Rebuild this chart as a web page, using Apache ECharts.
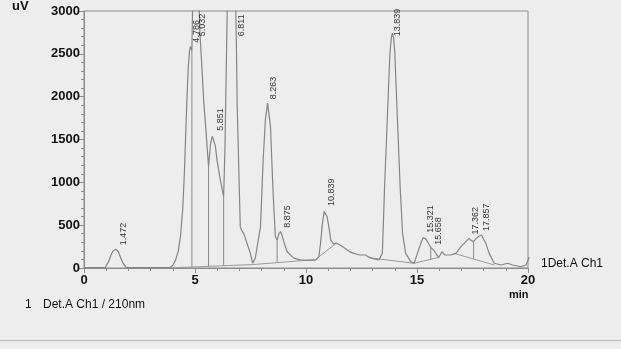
<!DOCTYPE html>
<html>
<head>
<meta charset="utf-8">
<script src="https://cdn.jsdelivr.net/npm/echarts@6/dist/echarts.min.js"></script>
<style>
  html, body { margin: 0; padding: 0; background: #ededed; }
  #chart { width: 621px; height: 349px; }
</style>
</head>
<body>
<div id="chart"></div>
<script>
// trace: retention time (min) / signal (uV)
var times = [0.0, 0.5, 0.95, 1.1, 1.2, 1.3, 1.43, 1.55, 1.65, 1.75, 1.9, 2.5, 3.0, 3.5, 3.88,
  4.0, 4.12, 4.25, 4.35, 4.45, 4.52, 4.58, 4.64, 4.7, 4.75, 4.79, 4.83, 4.86, 4.9, 4.97, 5.03,
  5.1, 5.17, 5.22, 5.31, 5.39, 5.5, 5.61, 5.7, 5.78, 5.84, 5.92, 5.99, 6.14, 6.29, 6.35, 6.42,
  6.48, 6.6, 6.7, 6.78, 6.84, 6.87, 6.9, 6.97, 7.04, 7.1, 7.19, 7.34, 7.49, 7.6, 7.72, 7.8,
  7.95, 8.07, 8.17, 8.27, 8.4, 8.52, 8.62, 8.7, 8.78, 8.85, 8.92, 9.0, 9.15, 9.45, 9.75, 10.05,
  10.43, 10.58, 10.66, 10.73, 10.82, 10.88, 10.95, 11.03, 11.12, 11.25, 11.35, 11.41, 11.5,
  11.56, 11.7, 11.86, 12.0, 12.16, 12.3, 12.46, 12.69, 12.8, 12.99, 13.29, 13.44, 13.54, 13.66,
  13.78, 13.85, 13.89, 13.95, 14.0, 14.12, 14.24, 14.35, 14.49, 14.72, 14.87, 15.02, 15.17,
  15.28, 15.32, 15.4, 15.5, 15.62, 15.7, 15.78, 15.89, 15.99, 16.12, 16.25, 16.52, 16.75,
  16.98, 17.2, 17.35, 17.45, 17.55, 17.65, 17.8, 17.9, 17.95, 18.1, 18.25, 18.48, 18.78,
  19.08, 19.31, 19.68, 19.91, 20.06];
var signal = [5, 6, 5, 70, 140, 195, 220, 190, 120, 60, 8, 5, 5, 5, 8,
  30, 90, 200, 380, 700, 1100, 1550, 2000, 2350, 2520, 2585, 2570, 2540, 3200, 4200, 4600,
  4000, 3200, 2750, 2350, 1960, 1580, 1183, 1450, 1540, 1555, 1420, 1260, 1030, 832, 1400, 2500,
  3500, 5500, 6000, 4500, 3000, 2500, 1900, 1180, 480, 440, 405, 290, 175, 55, 120, 250,
  480, 1260, 1730, 1925, 1650, 870, 365, 327, 400, 425, 380, 307, 190, 115, 95, 88,
  93, 132, 300, 500, 660, 677, 600, 480, 320, 280, 290, 295, 275,
  268, 240, 210, 185, 171, 160, 152, 152, 130, 113, 93, 171, 949, 1727,
  2506, 2700, 2740, 2680, 2506, 1727, 949, 405, 171, 74, 55, 171, 288,
  355, 365, 340, 295, 241, 225, 200, 152, 125, 190, 152, 152, 171,
  249, 307, 346, 320, 310, 340, 373, 385, 380, 288, 171, 55, 35,
  55, 35, 15, 35, 125];

// integrated peaks
var peakTimes = [1.472, 4.786, 5.032, 5.851, 6.811, 8.263, 8.875, 10.839, 13.839, 15.321, 15.658, 17.362, 17.857];
var peakHeights = [220, 2585, 4600, 1555, 6000, 1925, 425, 677, 2740, 365, 225, 346, 385];

// perpendicular drops between fused peaks
var dropTimes = [4.86, 5.61, 6.29, 8.70, 15.62, 17.55];
var dropBase = [13, 18, 25, 65, 95, 105];
var dropTop = [2540, 1183, 832, 327, 241, 310];

// drawn baselines
var baselines = [
  [[3.9, 2], [7.6, 40], [10.5, 100]],
  [[10.55, 125], [11.38, 292]],
  [[12.9, 118], [14.87, 55], [15.99, 125]],
  [[16.67, 171], [18.48, 35]]
];

var lineGray = '#8c8c8c';
var series = [];

series.push({
  type: 'line',
  data: times.map(function (t, i) { return [t, signal[i]]; }),
  showSymbol: false,
  clip: true,
  lineStyle: { color: '#858585', width: 1.2 },
  z: 5
});

baselines.forEach(function (seg) {
  series.push({
    type: 'line', data: seg, showSymbol: false, clip: true,
    lineStyle: { color: '#9a9a9a', width: 1 }, z: 4
  });
});

dropTimes.forEach(function (t, i) {
  series.push({
    type: 'line', data: [[t, dropBase[i]], [t, dropTop[i]]], showSymbol: false, clip: true,
    lineStyle: { color: '#8a8a8a', width: 1 }, z: 4
  });
});

series.push({
  type: 'scatter',
  data: peakTimes.map(function (t, i) { return [t, Math.min(peakHeights[i] + 40, 2700)]; }),
  symbolSize: 1,
  itemStyle: { color: 'rgba(0,0,0,0)' },
  label: {
    show: true,
    position: [7, 0],
    rotate: 90,
    align: 'left',
    verticalAlign: 'middle',
    fontFamily: 'Liberation Sans',
    fontSize: 9,
    color: '#000',
    formatter: function (p) { return p.value[0].toFixed(3); }
  },
  z: 6
});

var chart = echarts.init(document.getElementById('chart'));
chart.setOption({
  backgroundColor: '#ededed',
  animation: false,
  grid: { left: 84, top: 11, width: 444, height: 257, show: true, borderColor: lineGray, borderWidth: 1, backgroundColor: 'transparent' },
  xAxis: {
    type: 'value', min: 0, max: 20, interval: 5,
    axisLine: { show: true, lineStyle: { color: lineGray } },
    axisTick: { show: true, length: 5, lineStyle: { color: lineGray } },
    minorTick: { show: true, splitNumber: 5, length: 3, lineStyle: { color: lineGray } },
    splitLine: { show: false },
    axisLabel: { margin: 6, color: '#111', fontFamily: 'Liberation Sans', fontWeight: 'bold', fontSize: 13,
      formatter: function (v) { return String(v); } }
  },
  yAxis: {
    type: 'value', min: 0, max: 3000, interval: 500,
    axisLine: { show: true, lineStyle: { color: lineGray } },
    axisTick: { show: true, length: 5, lineStyle: { color: lineGray } },
    minorTick: { show: true, splitNumber: 5, length: 3, lineStyle: { color: lineGray } },
    splitLine: { show: false },
    axisLabel: { margin: 4, color: '#111', fontFamily: 'Liberation Sans', fontWeight: 'bold', fontSize: 13,
      formatter: function (v) { return String(v); } }
  },
  graphic: [
    { type: 'text', left: 12, top: 0, style: { text: 'uV', fontFamily: 'Liberation Sans', fontWeight: 'bold', fontSize: 13, fill: '#111' } },
    { type: 'text', left: 509, top: 289, style: { text: 'min', fontFamily: 'Liberation Sans', fontWeight: 'bold', fontSize: 11, fill: '#111' } },
    { type: 'text', left: 541, top: 258, style: { text: '1Det.A Ch1', fontFamily: 'Liberation Sans', fontSize: 12, fill: '#111' } },
    { type: 'text', left: 25, top: 299, style: { text: '1', fontFamily: 'Liberation Sans', fontSize: 12, fill: '#111' } },
    { type: 'text', left: 43, top: 299, style: { text: 'Det.A Ch1 / 210nm', fontFamily: 'Liberation Sans', fontSize: 12, fill: '#111' } },
    { type: 'rect', left: 0, top: 340, shape: { width: 621, height: 1 }, style: { fill: '#b5b5b5' } }
  ],
  series: series
});
</script>
</body>
</html>
